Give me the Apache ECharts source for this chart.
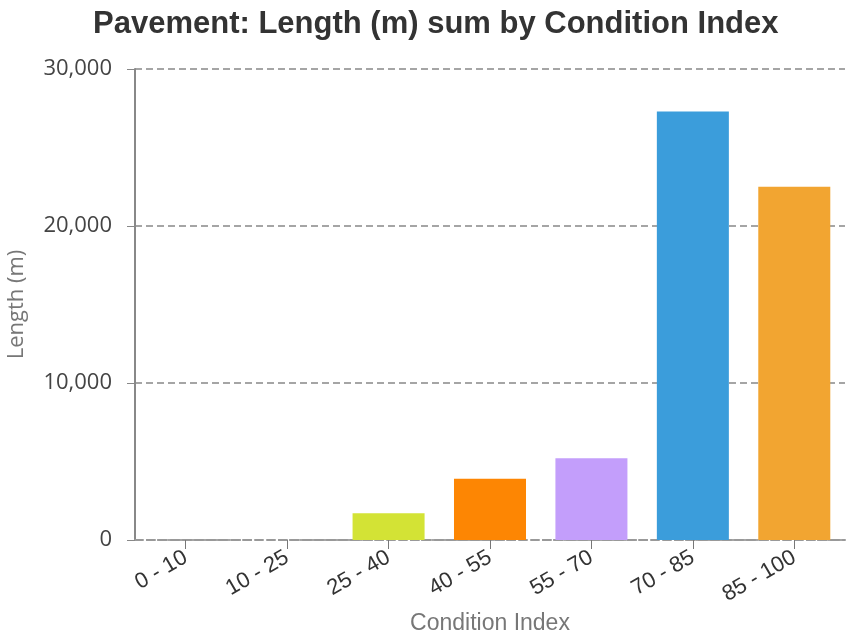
<!DOCTYPE html>
<html>
<head>
<meta charset="utf-8">
<script src="https://cdn.jsdelivr.net/npm/echarts@6/dist/echarts.min.js"></script>
<style>html,body{margin:0;padding:0;background:#fff}#c{width:858px;height:637px}</style>
</head>
<body>
<div id="c"></div>
<script>
const categories = ['0 - 10', '10 - 25', '25 - 40', '40 - 55', '55 - 70', '70 - 85', '85 - 100'];
const lengths = [0, 0, 1700, 3900, 5200, 27300, 22500];
const barColors = ['#d3e335', '#d3e335', '#d3e335', '#fd8603', '#c39efb', '#3b9ddb', '#f2a531'];
const yTicks = [0, 10000, 20000, 30000];

const chart = echarts.init(document.getElementById('c'), null, {renderer: 'canvas'});
chart.setOption({
  animation: false,
  title: {
    text: 'Pavement: Length (m) sum by Condition Index',
    left: 88, top: 4,
    textStyle: {fontFamily: 'Liberation Sans, Arial', fontWeight: 'bold', fontSize: 31, color: '#333'}
  },
  grid: {left: 135, right: 13, top: 69, bottom: 97, containLabel: false, outerBoundsMode: 'none'},
  xAxis: {
    type: 'category',
    data: categories,
    name: 'Condition Index',
    nameLocation: 'middle',
    nameGap: 72,
    nameTextStyle: {fontFamily: 'Liberation Sans, Arial', fontSize: 23, color: '#777'},
    axisLine: {lineStyle: {color: '#999', type: 'dashed', width: 2}},
    axisTick: {show: true, alignWithLabel: true, length: 9, lineStyle: {color: '#777'}},
    axisLabel: {rotate: 30, fontFamily: 'Liberation Sans, Arial', fontSize: 22, color: '#333', margin: 16}
  },
  yAxis: {
    type: 'value',
    min: yTicks[0], max: yTicks[yTicks.length - 1], interval: 10000,
    name: 'Length (m)',
    nameLocation: 'middle',
    nameGap: 107,
    nameTextStyle: {fontFamily: 'Open Sans, sans-serif', fontSize: 22, color: '#777'},
    axisLine: {show: true, lineStyle: {color: '#888', width: 2}},
    axisTick: {show: true, length: 8, lineStyle: {color: '#888'}},
    axisLabel: {fontFamily: 'Open Sans, sans-serif', fontSize: 22, color: '#444', margin: 23,
      formatter: v => v.toLocaleString('en-US')},
    splitLine: {show: true, lineStyle: {color: '#888', type: [7, 4], width: 1.5}}
  },
  series: [{
    type: 'bar',
    data: lengths.map((v, i) => ({value: v, itemStyle: {color: barColors[i]}})),
    barCategoryGap: '29%'
  }]
});
</script>
</body>
</html>
